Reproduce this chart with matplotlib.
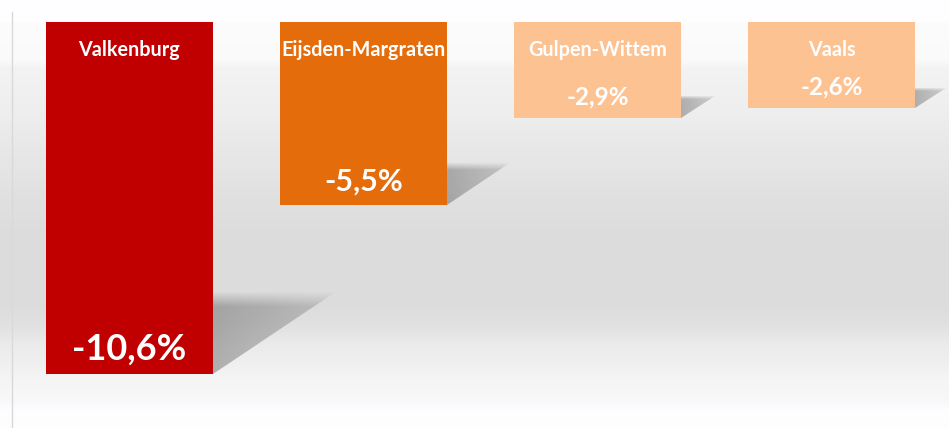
import numpy as np
import matplotlib
matplotlib.use("Agg")
import matplotlib.pyplot as plt
from matplotlib.patches import Polygon

# ---- data ----
categories = ["Valkenburg", "Eijsden-Margraten", "Gulpen-Wittem", "Vaals"]
values = [-10.6, -5.5, -2.9, -2.6]
value_labels = ["-10,6%", "-5,5%", "-2,9%", "-2,6%"]

# ---- style ----
bar_colors = ["#C00000", "#E46C0A", "#FCC292", "#FCC292"]
value_fontsizes = [26, 22, 17.5, 17.5]
cat_fontsize = 14.2
FONT = ["Lato", "DejaVu Sans"]

W, H, DPI = 949, 428, 100
fig = plt.figure(figsize=(W / DPI, H / DPI), dpi=DPI)

# background gradient (figure-wide, vertical profile)
bg = fig.add_axes([0, 0, 1, 1], zorder=0)
bg.set_axis_off()
ys = np.array([0, 21, 23, 60, 68, 112, 135, 160, 200, 235, 305, 325, 345, 365, 380, 400, 410, 428])
gs = np.array([255, 255, 253, 251, 244, 239, 235, 231, 225, 221, 221, 226, 236, 241, 246, 249, 254, 255])
prof = (np.interp(np.arange(H), ys, gs) / 255.0)[:, None]
img = np.dstack([prof * 0.998, prof * 0.996, prof * 1.0])
img = np.clip(img, 0, 1)
img = np.repeat(img, 4, axis=1)
bg.imshow(img, aspect="auto", extent=[0, 1, 0, 1], origin="upper")
bg.set_xlim(0, 1)
bg.set_ylim(0, 1)

# main axes
px_per_unit = 33.2
top_px, ax_top_px, ax_left_px = 22, 12, 12
ax = fig.add_axes([ax_left_px / W, 0, 1 - ax_left_px / W, (H - ax_top_px) / H], zorder=1)
ax.patch.set_alpha(0)
ax.set_ylim(-(H - top_px) / px_per_unit, (top_px - ax_top_px) / px_per_unit)
ax.set_xlim(-0.5, len(categories) - 0.5)
for s in ["top", "right", "bottom"]:
    ax.spines[s].set_visible(False)
ax.spines["left"].set_color("#d9d9d9")
ax.spines["left"].set_linewidth(1.0)
ax.set_xticks([])
ax.set_yticks([])

bw = 0.713
x = np.arange(len(categories))

# shadows
for i, v in enumerate(values):
    L = abs(v)
    xr = x[i] + bw / 2
    x2 = xr + 0.05 * L
    ytop = v + 0.235 * L
    poly = Polygon([(xr, v), (xr, ytop), (x2, ytop)], closed=True,
                   facecolor="none", edgecolor="none")
    ax.add_patch(poly)
    n = 60
    u = np.linspace(0, 1, n)[None, :]
    t = np.linspace(1, 0, n)[:, None]  # row 0 = top
    alpha = 0.42 * (1 - 0.45 * u) * np.clip((1 - t) / 0.18, 0, 1)
    rgba = np.zeros((n, n, 4))
    rgba[..., :3] = 0.33
    rgba[..., 3] = alpha
    im = ax.imshow(rgba, extent=[xr, x2, v, ytop], origin="upper",
                   aspect="auto", zorder=1.5, interpolation="bilinear")
    im.set_clip_path(poly)

bars = ax.bar(x, values, width=bw, color=bar_colors, zorder=2)

for i, (c, v) in enumerate(zip(categories, values)):
    ax.text(x[i], -0.84, c, ha="center", va="center", color="white",
            fontsize=cat_fontsize, fontweight="bold", family=FONT, zorder=3)
    ax.annotate(value_labels[i], (x[i], v), xytext=(0, 10), textcoords="offset points",
                ha="center", va="baseline", color="white",
                fontsize=value_fontsizes[i], fontweight="bold", family=FONT, zorder=3)

fig.savefig("out.png", dpi=DPI)
